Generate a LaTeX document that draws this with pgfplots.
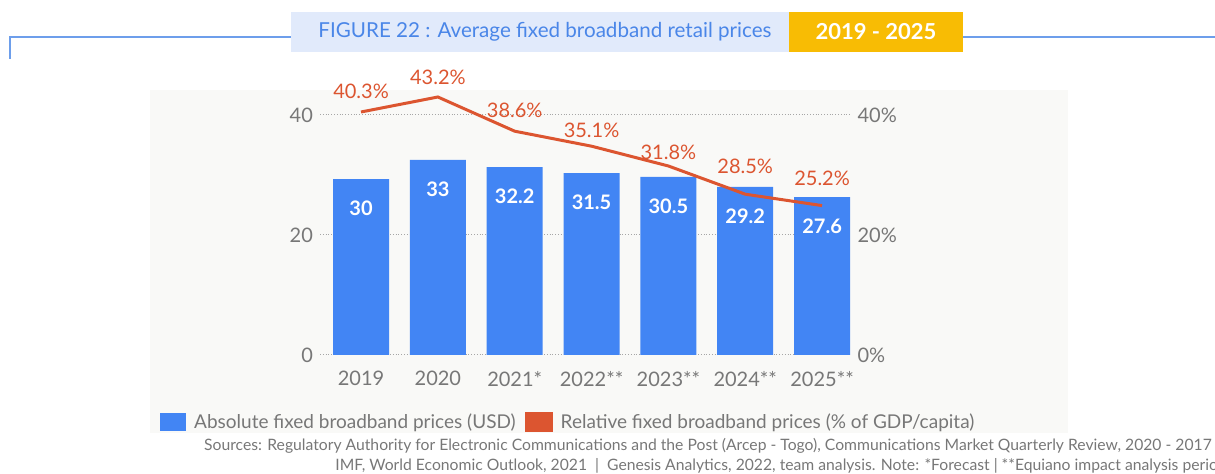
\documentclass[border=0pt]{standalone}
\usepackage{pgfplots}
\pgfplotsset{compat=1.18}
\usepackage{pgfplotstable}
\usepackage{fontspec}
\setmainfont{Lato}
\definecolor{barblue}{HTML}{4285F4}
\definecolor{lineor}{HTML}{DC5530}
\definecolor{txtgrey}{HTML}{777777}
\definecolor{panel}{HTML}{F9F9F7}
\definecolor{hdrblue}{HTML}{E1EAFB}
\definecolor{hdrtext}{HTML}{4A86E8}
\definecolor{hdryellow}{HTML}{F8BC04}
\definecolor{rulec}{HTML}{6D9EEB}

\pgfplotstableread{
x y lab
0 29.3 30
1 32.5 33
2 31.3 32.2
3 30.3 31.5
4 29.7 30.5
5 28.0 29.2
6 26.3 27.6
}\bardata

\pgfplotstableread{
x y
0 40.5
1 43.0
2 37.3
3 34.8
4 31.5
5 26.8
6 24.9
}\linedata

\pgfplotstableread{
x y lab
0 44.0 40.3
1 46.3 43.2
2 40.8 38.6
3 37.5 35.1
4 33.7 31.8
5 31.5 28.5
6 29.5 25.2
}\labdata

\begin{document}
\begin{tikzpicture}[x=0.5pt,y=0.5pt]
\useasboundingbox (0,0) rectangle (1215,474);
% panel
\fill[panel] (150,41) rectangle (1068,384);
% header
\draw[rulec, line width=1pt] (10,415) -- (10,437) -- (291,437);
\draw[rulec, line width=1pt] (963,437) -- (1215,437);
\fill[hdrblue] (291,422) rectangle (789,462);
\fill[hdryellow] (789,422) rectangle (963,462);
\node[text=hdrtext, font=\fontsize{10.3}{12}\selectfont, inner sep=0pt] at (545,442) {FIGURE 22 : Average fixed broadband retail prices};
\node[text=white, font=\fontsize{11}{12}\selectfont\bfseries, inner sep=0pt] at (876,442) {2019 - 2025};
% sources
\node[text=txtgrey, font=\fontsize{7.85}{9}\selectfont, inner sep=0pt, anchor=east] at (1212,28) {Sources: Regulatory Authority for Electronic Communications and the Post (Arcep - Togo), Communications Market Quarterly Review, 2020 - 2017};
\node[text=txtgrey, font=\fontsize{7.85}{9}\selectfont, inner sep=0pt, anchor=west] at (335,8) {IMF, World Economic Outlook, 2021 \ \textbar\ \ Genesis Analytics, 2022, team analysis. Note: *Forecast | **Equiano impact analysis period};

\begin{axis}[
  scale only axis, width=265.25pt, height=120pt,
  at={(160pt,59.5pt)}, anchor=south west,
  xmin=-0.534, xmax=6.37, ymin=0, ymax=40,
  axis line style={draw=none}, major tick length=0pt,
  ytick={0,20,40}, ymajorgrids,
  grid style={densely dotted, color=black!35, line width=0.5pt},
  xtick={0,...,6}, xticklabels={2019,2020,2021*,2022**,2023**,2024**,2025**},
  tick label style={font=\fontsize{10}{12}\selectfont, text=txtgrey},
  /pgf/number format/assume math mode=true,
  xticklabel style={yshift=-4.5pt},
  ybar, bar width=28pt,
  clip=false,
]
\addplot[fill=barblue, draw=none, bar shift=0pt,
  nodes near coords, point meta=explicit symbolic,
  every node near coord/.append style={anchor=center, yshift=-14.5pt, text=white, font=\fontsize{10}{12}\selectfont\bfseries}]
  table[x=x, y=y, meta=lab] {\bardata};
\end{axis}

\begin{axis}[
  scale only axis, width=265.25pt, height=120pt,
  at={(160pt,59.5pt)}, anchor=south west,
  xmin=-0.534, xmax=6.37, ymin=0, ymax=40,
  axis line style={draw=none}, major tick length=0pt,
  ytick={0,20,40}, yticklabels={0\%,20\%,40\%}, yticklabel pos=right,
  xtick=\empty,
  tick label style={font=\fontsize{10}{12}\selectfont, text=txtgrey},
  clip=false,
  legend columns=2,
  legend style={at={(-0.3016,-0.28)}, anchor=west, draw=none, fill=none, inner sep=0pt,
    font=\fontsize{9.5}{12}\selectfont, text=txtgrey,
    nodes={inner sep=0pt},
    /tikz/every odd column/.append style={column sep=4pt},
    /tikz/every even column/.append style={column sep=4.5pt}},
]
\addlegendimage{legend image code/.code={\fill[barblue] (0pt,-4.25pt) rectangle (12.5pt,4.25pt);}}
\addlegendentry{Absolute fixed broadband prices (USD)}
\addplot[lineor, line width=1.5pt,
  legend image code/.code={\fill[lineor] (0pt,-4.25pt) rectangle (12.5pt,4.25pt);}]
  table[x=x, y=y] {\linedata};
\addlegendentry{Relative fixed broadband prices (\% of GDP/capita)}
\addplot[draw=none, mark=none, forget plot,
  nodes near coords={\pgfplotspointmeta\%}, point meta=explicit symbolic,
  every node near coord/.append style={anchor=center, text=lineor, font=\fontsize{10}{12}\selectfont}]
  table[x=x, y=y, meta=lab] {\labdata};
\end{axis}
\end{tikzpicture}
\end{document}
